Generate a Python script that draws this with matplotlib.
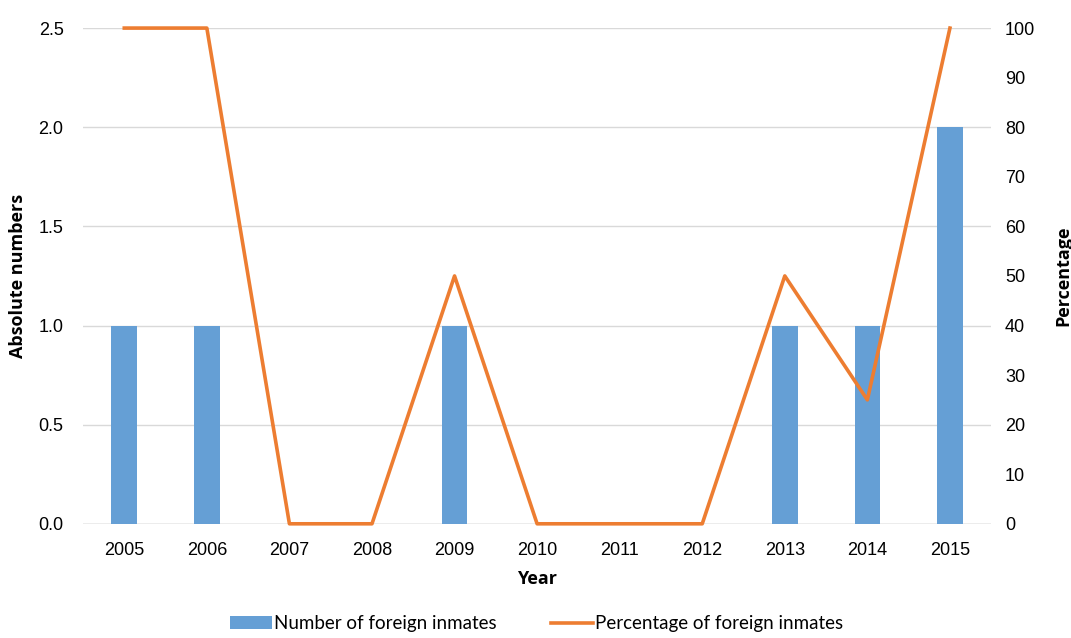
import numpy as np
import matplotlib
matplotlib.use('Agg')
import matplotlib.pyplot as plt

years = ['2005', '2006', '2007', '2008', '2009', '2010', '2011', '2012', '2013', '2014', '2015']
foreign_inmates = [1, 1, 0, 0, 1, 0, 0, 0, 1, 1, 2]
foreign_pct = [100, 100, 0, 0, 50, 0, 0, 0, 50, 25, 100]

bar_color = '#659FD5'
line_color = '#ED7D31'

plt.rcParams['font.family'] = ['Liberation Sans', 'DejaVu Sans']
label_font = 'Open Sans'

fig = plt.figure(figsize=(10.71, 6.38), dpi=100)
ax = fig.add_axes([0.0775, 0.179, 0.848, 0.777])
ax2 = ax.twinx()

ind = np.arange(len(years))
bars = ax.bar(ind, foreign_inmates, 0.31, color=bar_color, zorder=2,
              label='Number of foreign inmates')
line, = ax2.plot(ind, foreign_pct, color=line_color, lw=2.6, zorder=3,
                 label='Percentage of foreign inmates', clip_on=False)

ax.set_xlim(-0.5, len(years) - 0.5)
ax.set_ylim(0, 2.5)
ax.set_yticks(np.arange(0, 2.51, 0.5))
ax.set_yticklabels(['{:.1f}'.format(v) for v in np.arange(0, 2.51, 0.5)])
ax2.set_ylim(0, 100)
ax2.set_yticks(np.arange(0, 101, 10))

ax.set_xticks(ind)
ax.set_xticklabels(years)

ax.grid(axis='y', color='#D9D9D9', lw=1, zorder=0)
ax.set_axisbelow(True)
for a in (ax, ax2):
    for s in ('top', 'left', 'right', 'bottom'):
        a.spines[s].set_visible(False)
    a.tick_params(length=0, labelsize=13, colors='black')
ax.axhline(0, color='#BFBFBF', lw=1, zorder=1)
ax.tick_params(axis='x', pad=13)
ax.tick_params(axis='y', pad=14)
ax2.tick_params(axis='y', pad=10)

ax.set_xlabel('Year', fontsize=13, fontweight='bold', family=label_font, labelpad=8)
ax.set_ylabel('Absolute numbers', fontsize=13, fontweight='bold', family=label_font, labelpad=8)
ax2.set_ylabel('Percentage', fontsize=13, fontweight='bold', family=label_font, labelpad=14)

fig.legend(handles=[bars, line], loc='center', bbox_to_anchor=(0.501, 0.022),
           ncol=2, frameon=False, handlelength=2.2,
           handletextpad=0.1, columnspacing=2.95,
           prop={'family': 'Lato', 'size': 13.5})

fig.savefig('out.png', dpi=100)
